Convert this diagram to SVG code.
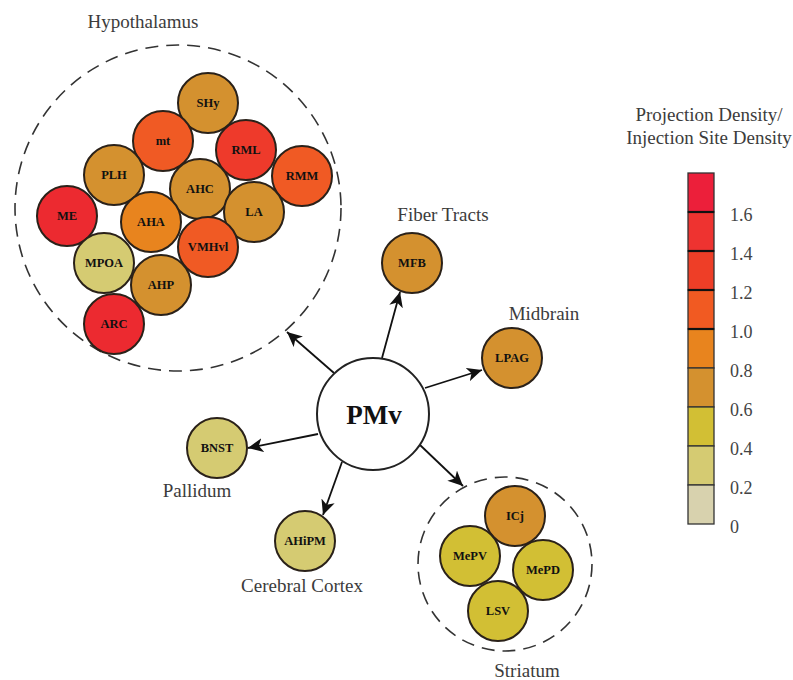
<svg xmlns="http://www.w3.org/2000/svg" width="793" height="680" viewBox="0 0 793 680">
<defs>
<marker id="arr" markerUnits="userSpaceOnUse" markerWidth="16" markerHeight="14" refX="15" refY="7" orient="auto">
<path d="M0,0 L15,7 L0,14 L4,7 z" fill="#111"/>
</marker>
<style>
.n{stroke:#2a2119;stroke-width:2}
.nt{font-family:"Liberation Serif",serif;font-weight:bold;font-size:12.5px;fill:#111;text-anchor:middle}
.lb{font-family:"Liberation Serif",serif;font-size:19px;fill:#3c3c3c;text-anchor:middle}
.dash{fill:none;stroke:#333;stroke-width:1.6;stroke-dasharray:13 8}
.c{stroke:#111;stroke-width:1.8;fill:none;marker-end:url(#arr)}
.tan{fill:#D4912F}.red{fill:#EC2A30}.red2{fill:#EE3A2B}.or{fill:#F05A24}.org{fill:#E8841E}.yel{fill:#D2BF34}.pale{fill:#D5CB72}
.leg{font-family:"Liberation Serif",serif;font-size:18px;fill:#444}
</style>
</defs>
<rect width="793" height="680" fill="#fff"/>

<g id="hypothalamus">
<circle class="dash" cx="178" cy="208" r="163"/>
<text class="lb" x="143" y="28">Hypothalamus</text>
</g>
<g id="striatum">
<circle class="dash" cx="505" cy="564" r="87"/>
<text class="lb" x="527" y="677">Striatum</text>
</g>

<g id="connectors">
<line class="c" x1="334" y1="373" x2="287" y2="332"/>
<line class="c" x1="382" y1="358" x2="400" y2="292"/>
<line class="c" x1="425" y1="388" x2="482" y2="370"/>
<line class="c" x1="318" y1="434" x2="248" y2="448"/>
<line class="c" x1="342" y1="462" x2="323" y2="515"/>
<line class="c" x1="420" y1="445" x2="463" y2="486"/>
</g>

<g id="PMv">
<circle cx="373" cy="414" r="56" fill="#fff" stroke="#222" stroke-width="2"/>
<text x="374" y="424" font-family="Liberation Serif, serif" font-weight="bold" font-size="27" fill="#111" text-anchor="middle">PMv</text>
</g>

<g id="SHy"><circle class="n tan" cx="208" cy="103" r="30"/><text class="nt" x="208" y="107">SHy</text></g>
<g id="mt"><circle class="n or" cx="163" cy="141" r="30"/><text class="nt" x="163" y="145">mt</text></g>
<g id="RML"><circle class="n red2" cx="246" cy="150" r="30"/><text class="nt" x="246" y="154">RML</text></g>
<g id="RMM"><circle class="n or" cx="302" cy="176" r="30"/><text class="nt" x="302" y="180">RMM</text></g>
<g id="PLH"><circle class="n tan" cx="114" cy="175" r="30"/><text class="nt" x="114" y="179">PLH</text></g>
<g id="AHC"><circle class="n tan" cx="200" cy="189" r="30"/><text class="nt" x="200" y="193">AHC</text></g>
<g id="ME"><circle class="n red" cx="67" cy="216" r="30"/><text class="nt" x="67" y="220">ME</text></g>
<g id="AHA"><circle class="n org" cx="151" cy="222" r="30"/><text class="nt" x="151" y="226">AHA</text></g>
<g id="LA"><circle class="n tan" cx="254" cy="212" r="30"/><text class="nt" x="254" y="216">LA</text></g>
<g id="VMHvl"><circle class="n or" cx="208" cy="247" r="30"/><text class="nt" x="208" y="251">VMHvl</text></g>
<g id="MPOA"><circle class="n pale" cx="104" cy="263" r="30"/><text class="nt" x="104" y="267">MPOA</text></g>
<g id="AHP"><circle class="n tan" cx="161" cy="285" r="30"/><text class="nt" x="161" y="289">AHP</text></g>
<g id="ARC"><circle class="n red" cx="114" cy="324" r="30"/><text class="nt" x="114" y="328">ARC</text></g>

<g id="MFB"><circle class="n tan" cx="412" cy="263" r="30"/><text class="nt" x="412" y="267">MFB</text>
<text class="lb" x="443" y="221">Fiber Tracts</text></g>
<g id="LPAG"><circle class="n tan" cx="512" cy="358" r="30"/><text class="nt" x="512" y="362">LPAG</text>
<text class="lb" x="544" y="320">Midbrain</text></g>
<g id="BNST"><circle class="n pale" cx="217" cy="448" r="30"/><text class="nt" x="217" y="452">BNST</text>
<text class="lb" x="197" y="497">Pallidum</text></g>
<g id="AHiPM"><circle class="n pale" cx="305" cy="541" r="30"/><text class="nt" x="305" y="545">AHiPM</text>
<text class="lb" x="302" y="592">Cerebral Cortex</text></g>

<g id="ICj"><circle class="n tan" cx="515" cy="516" r="30"/><text class="nt" x="515" y="520">ICj</text></g>
<g id="MePV"><circle class="n yel" cx="470" cy="556" r="30"/><text class="nt" x="470" y="560">MePV</text></g>
<g id="MePD"><circle class="n yel" cx="543" cy="570" r="30"/><text class="nt" x="543" y="574">MePD</text></g>
<g id="LSV"><circle class="n yel" cx="498" cy="611" r="30"/><text class="nt" x="498" y="615">LSV</text></g>

<g id="legend">
<text class="lb" x="709" y="121">Projection Density/</text>
<text class="lb" x="709" y="144">Injection Site Density</text>
<g stroke="#333" stroke-width="1.3">
<rect x="688" y="173" width="26" height="39" fill="#EC1F3A"/>
<rect x="688" y="212" width="26" height="39" fill="#EE3330"/>
<rect x="688" y="251" width="26" height="39" fill="#EE3E27"/>
<rect x="688" y="290" width="26" height="39" fill="#F15A22"/>
<rect x="688" y="329" width="26" height="39" fill="#E8841E"/>
<rect x="688" y="368" width="26" height="39" fill="#D4912F"/>
<rect x="688" y="407" width="26" height="39" fill="#D2BF34"/>
<rect x="688" y="446" width="26" height="39" fill="#D5CB72"/>
<rect x="688" y="485" width="26" height="39" fill="#D8D2AE"/>
</g>
<g stroke="#111" stroke-width="2.2">
<line x1="688" y1="212" x2="714" y2="212"/>
<line x1="688" y1="251" x2="714" y2="251"/>
<line x1="688" y1="290" x2="714" y2="290"/>
<line x1="688" y1="329" x2="714" y2="329"/>
</g>
<text class="leg" x="730" y="221">1.6</text>
<text class="leg" x="730" y="260">1.4</text>
<text class="leg" x="730" y="299">1.2</text>
<text class="leg" x="730" y="338">1.0</text>
<text class="leg" x="730" y="377">0.8</text>
<text class="leg" x="730" y="416">0.6</text>
<text class="leg" x="730" y="455">0.4</text>
<text class="leg" x="730" y="494">0.2</text>
<text class="leg" x="730" y="533">0</text>
</g>
</svg>
